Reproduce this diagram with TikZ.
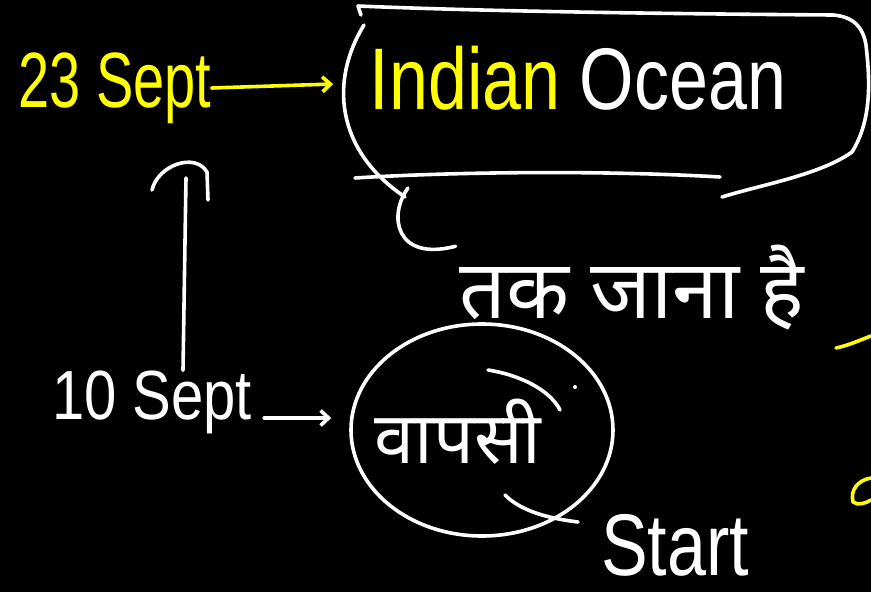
\documentclass[tikz,border=0pt]{standalone}
\usepackage{fontspec}
\usepackage{graphicx}
\setmainfont{Liberation Sans}
\newfontfamily\devfont[Script=Devanagari]{Noto Sans}
\usetikzlibrary{arrows.meta,shapes.geometric}
\definecolor{hiyel}{RGB}{255,255,0}
\tikzset{
  wpen/.style={draw=white, line width=3.6pt, line cap=round, line join=round},
  ypen/.style={wpen, draw=hiyel},
  wtext/.style={inner sep=0pt, text=white},
  ytext/.style={inner sep=0pt, text=hiyel},
  tip/.style={-{Straight Barb[length=8pt,width=15pt,line width=3.6pt]}},
}
\begin{document}
\begin{tikzpicture}[x=1pt,y=-1pt]
\fill[black] (0,0) rectangle (871,592);
\useasboundingbox (0,0) rectangle (871,592);

% text nodes
\node[ytext, font=\fontsize{56}{60}\selectfont] (s23) at (115,88) {\scalebox{1}[1.4]{23 Sept}};
\node[wtext, font=\fontsize{70}{72}\selectfont] (ocean) at (578,78) {\scalebox{1}[1.25]{\textcolor{hiyel}{Indian} Ocean}};
\node[wtext, font=\fontsize{58}{60}\selectfont] (s10) at (152,402) {\scalebox{1}[1.2]{10 Sept}};
\node[wtext, font=\devfont\fontsize{72}{74}\selectfont] (ret) at (458,432) {वापसी};
\node[wtext, font=\devfont\fontsize{82}{84}\selectfont] (hin) at (632,288) {तक जाना है};
\node[wtext, font=\fontsize{70}{72}\selectfont] (start) at (675,545) {\scalebox{1}[1.25]{Start}};

% circle round the return
\node[draw=white, line width=3.6pt, ellipse, minimum width=262pt, minimum height=212pt, inner sep=0pt] (circ) at (482,430) {};

% freehand box round Indian Ocean
\coordinate (boxL) at (333,84);
\coordinate (boxBL) at (408,188);
\draw[wpen] (361,15) -- (358,6) .. controls (500,12) and (700,14) .. (833,15)
  .. controls (845,16) and (862,20) .. (866,45)
  .. controls (870,80) and (872,120) .. (852,152)
  .. controls (820,175) and (760,185) .. (722,197);
\draw[wpen] (364,25) .. controls (330,80) and (335,150) .. (405,197);
\draw[wpen] (355,178) .. controls (450,172) and (600,170) .. (720,177);

% connectors
\draw[ypen, tip] (s23.east) -- (boxL);
\draw[wpen, tip, shorten <=12pt, shorten >=18pt] ([yshift=-16pt]s10.east) -- ([yshift=12pt]circ.west);
\coordinate (vtop) at (186,178);
\draw[wpen] ([xshift=31pt]s10.north) -- (vtop);
\draw[wpen] (152,190) .. controls (158,165) and (195,152) .. (207,172) -- (208,200);
\draw[wpen, shorten >=4pt] (boxBL) .. controls (388,215) and (395,262) .. (hin.north west);

% strokes in and by the circle
\draw[wpen] (488,370) .. controls (520,375) and (550,390) .. (560,410);
\fill[white] (575,387) circle (2pt);
\draw[wpen] (505,495) .. controls (520,510) and (545,518) .. (578,522);

% yellow fragments at the right edge
\draw[ypen] (836,348) .. controls (850,345) and (860,340) .. (871,336);
\draw[ypen] (871,478) .. controls (858,480) and (850,490) .. (853,502) .. controls (858,506) and (866,503) .. (871,500);
\end{tikzpicture}
\end{document}
